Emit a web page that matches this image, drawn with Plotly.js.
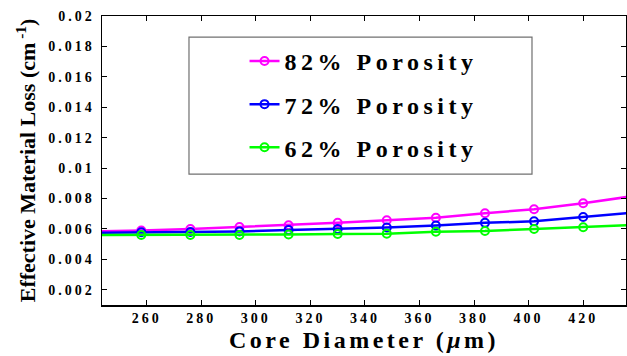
<!DOCTYPE html>
<html>
<head>
<meta charset="utf-8">
<script src="https://cdn.plot.ly/plotly-3.0.1.min.js"></script>
<style>
html,body{margin:0;padding:0;background:#fff;}
#chart{width:627px;height:356px;}
.xtick text,.ytick text{letter-spacing:3px;}
.legendtext{letter-spacing:4.5px;}
.g-xtitle text{letter-spacing:3.5px;}
</style>
</head>
<body>
<div id="chart"></div>
<script>
const coreDiameter = [240, 258, 276, 294, 312, 330, 348, 366, 384, 402, 420, 438];
const loss82 = [0.00583, 0.00589, 0.00600, 0.00613, 0.00624, 0.00640, 0.00657, 0.00673, 0.00703, 0.00730, 0.00769, 0.00815];
const loss72 = [0.00575, 0.00578, 0.00580, 0.00584, 0.00593, 0.00600, 0.00609, 0.00622, 0.00640, 0.00650, 0.00679, 0.00706];
const loss62 = [0.00560, 0.00560, 0.00560, 0.00560, 0.00564, 0.00567, 0.00569, 0.00582, 0.00587, 0.00600, 0.00611, 0.00626];
const seriesNames = ['82% Porosity', '72% Porosity', '62% Porosity'];
const xTickVals = [260, 280, 300, 320, 340, 360, 380, 400, 420];
const yTickVals = [0.002, 0.004, 0.006, 0.008, 0.01, 0.012, 0.014, 0.016, 0.018, 0.02];
const yTickText = ['0.002', '0.004', '0.006', '0.008', '0.01', '0.012', '0.014', '0.016', '0.018', '0.02'];

const serif = 'Liberation Serif';
const colors = ['#ff00ff', '#0000ff', '#00ff00'];
const ys = [loss82, loss72, loss62];

const traces = ys.map((y, i) => ({
  x: coreDiameter, y: y, name: seriesNames[i], type: 'scatter', mode: 'lines+markers',
  legendgroup: 'g' + i,
  line: {color: colors[i], width: 2.5},
  marker: {symbol: 'circle-open', size: 8, color: colors[i], line: {width: 2, color: colors[i]}}
}));

const layout = {
  width: 627, height: 356,
  margin: {l: 102, r: 1, t: 16, b: 51},
  paper_bgcolor: '#fff', plot_bgcolor: '#fff',
  showlegend: true,
  legend: {
    x: 0.272, y: 0.921, xanchor: 'left', yanchor: 'top',
    bgcolor: 'rgba(0,0,0,0)', borderwidth: 0,
    traceorder: 'grouped', tracegroupgap: 9,
    font: {family: serif, size: 24, color: '#000', weight: 700}
  },
  shapes: [{
    type: 'rect', xref: 'paper', yref: 'paper',
    x0: 0.166, x1: 0.8206, y0: 0.453, y1: 0.927,
    line: {color: '#707070', width: 1.2}, fillcolor: 'rgba(0,0,0,0)'
  }],
  xaxis: {
    range: [243.6, 435.7],
    tickvals: xTickVals,
    ticks: 'inside', ticklen: 5, tickwidth: 1, tickcolor: '#000',
    showline: true, linecolor: '#000', linewidth: 1.5, mirror: 'ticks',
    showgrid: false, zeroline: false,
    tickfont: {family: serif, size: 14, color: '#000', weight: 700},
    title: {text: 'Core Diameter (<i>μ</i>m)', standoff: 6,
      font: {family: serif, size: 24, color: '#000', weight: 700}}
  },
  yaxis: {
    range: [0.001, 0.02],
    tickvals: yTickVals, ticktext: yTickText,
    ticks: 'inside', ticklen: 5, tickwidth: 1, tickcolor: '#000',
    ticklabelstandoff: 3,
    showline: true, linecolor: '#000', linewidth: 1.5, mirror: 'ticks',
    showgrid: false, zeroline: false,
    tickfont: {family: serif, size: 14, color: '#000', weight: 700},
    title: {text: 'Effective Material Loss (cm<sup> -1</sup>)', standoff: 6,
      font: {family: serif, size: 22, color: '#000', weight: 700}}
  }
};

Plotly.newPlot('chart', traces, layout, {displayModeBar: false, staticPlot: true});
</script>
</body>
</html>
